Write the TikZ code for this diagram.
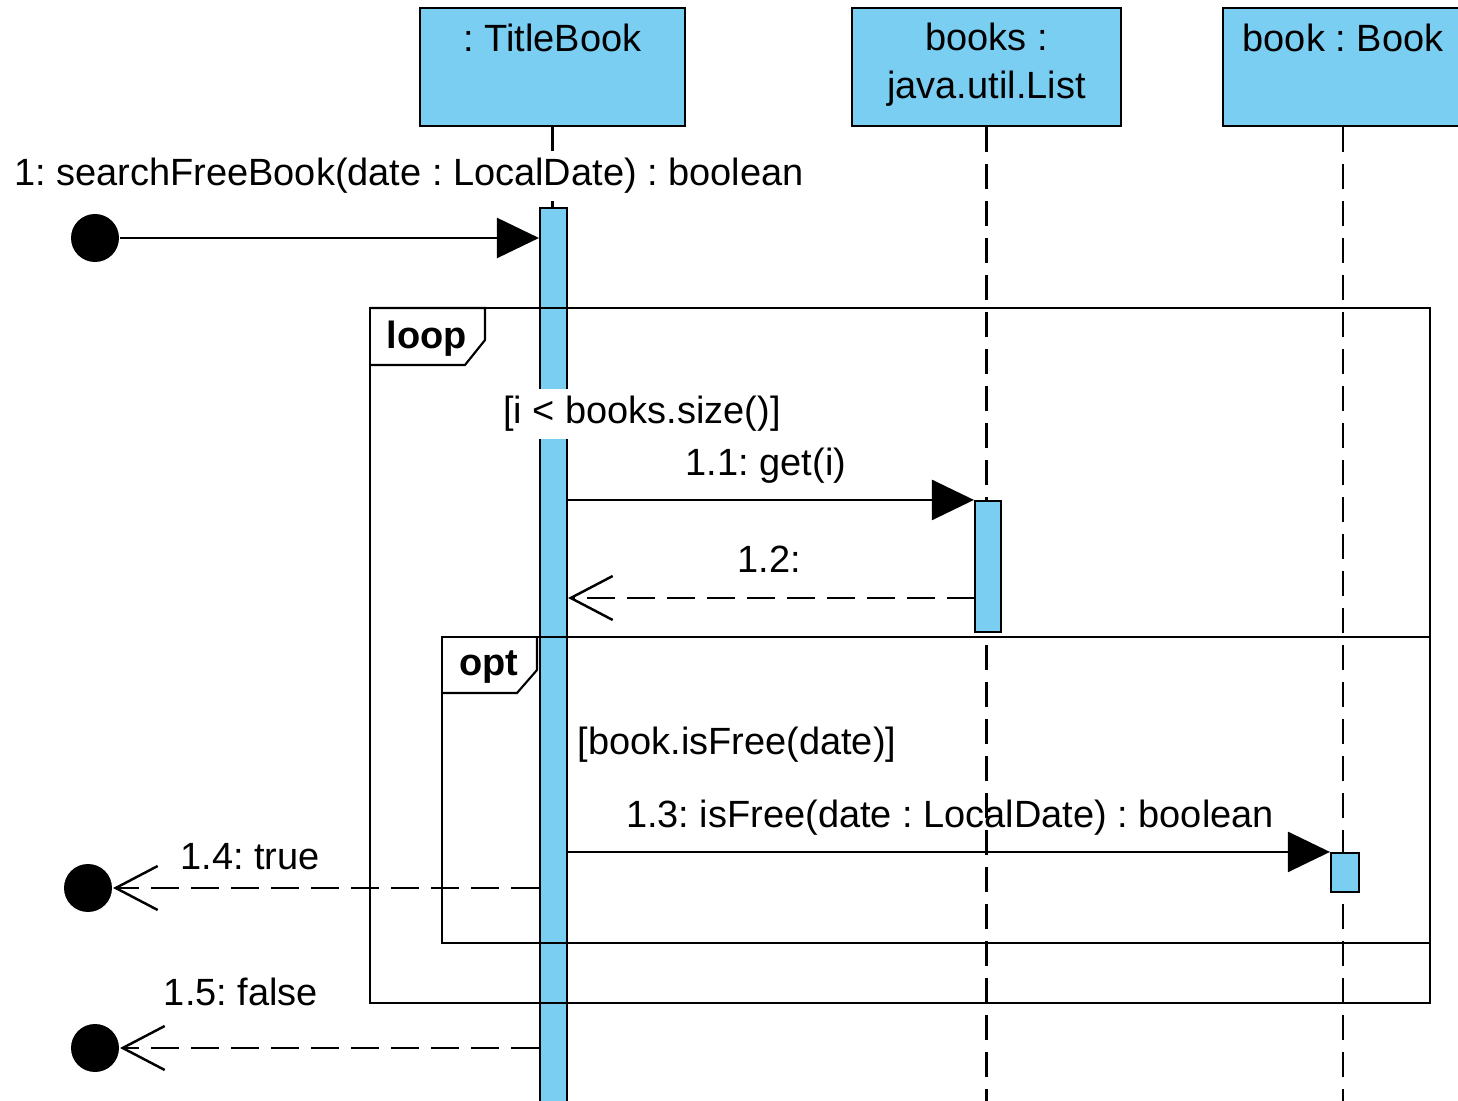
\documentclass[tikz,border=0pt]{standalone}
\usepackage{fontspec}
\setmainfont{Liberation Sans}
\usepackage{tikz}
\usetikzlibrary{arrows.meta,positioning,calc}
\usepackage{xcolor}
\definecolor{objcolor}{RGB}{122, 206, 242}
\frenchspacing

\begin{document}
\begin{tikzpicture}[
    font=\fontsize{10.8}{13.6}\selectfont,
    line width=0.6pt,
    objbox/.style={rectangle, draw, fill=objcolor, minimum width=2.65cm, minimum height=1.18cm, inner sep=0pt},
    actbar/.style={rectangle, draw, fill=objcolor, minimum width=0.27cm, inner sep=0pt},
    lifeline/.style={dash pattern=on 0.25cm off 0.12cm, line width=0.7pt},
    call/.style={-{Triangle[length=0.42cm, width=0.4cm]}, line width=0.7pt},
    reply/.style={-{Straight Barb[length=0.42cm, width=0.44cm]}, dash pattern=on 0.28cm off 0.12cm, line width=0.7pt},
    endpt/.style={circle, fill=black, minimum size=0.48cm, inner sep=0pt},
    msg/.style={inner sep=1pt},
    guard/.style={fill=white, inner sep=0.07cm},
    tag/.style={font=\fontsize{10.8}{13}\selectfont\bfseries, inner sep=1pt},
]
    \useasboundingbox (0,0) rectangle (14.58,-11.01);

    % === OBJECTS ===
    \node[objbox] (tb) at (5.525, -0.67) {};
    \node[objbox, minimum width=2.69cm] (bks) at (9.865, -0.67) {};
    \node[objbox, minimum width=2.40cm] (bk) at (13.43, -0.67) {};
    \node (tbname) at (5.525, -0.38) {: TitleBook};
    \node[align=center] (bksname) at (9.865, -0.65) {books :\\java.util.List};
    \node (bkname) at (13.43, -0.38) {book : Book};

    % Lifelines
    \coordinate (bottom) at (0, -11.2);
    \foreach \o in {tb, bks, bk} {
        \draw[lifeline] (\o.south) -- (\o.south |- bottom);
    }

    % Activations
    \node[actbar, minimum height=9.07cm] (tbbar) at (5.535, -6.615) {};
    \node[actbar, minimum width=0.26cm, minimum height=1.31cm] (bksbar) at (9.88, -5.665) {};
    \node[actbar, minimum width=0.28cm, minimum height=0.39cm] (bkbar) at (13.45, -8.725) {};

    % === FRAMES ===
    \draw (3.70, -3.08) rectangle (14.30, -10.03);
    \draw (3.70, -3.08) -- (4.85, -3.08) -- (4.85, -3.40) -- (4.65, -3.65) -- (3.70, -3.65);
    \node[tag] (loop) at (4.27, -3.39) {loop};

    \draw (4.42, -6.37) rectangle (14.30, -9.43);
    \draw (5.37, -6.37) -- (5.37, -6.70) -- (5.17, -6.93) -- (4.42, -6.93);
    \node[tag] (opt) at (4.89, -6.67) {opt};

    % === MESSAGES ===
    \node[endpt] (start) at (0.95, -2.38) {};
    \node[guard] (m1) at (4.09, -1.76) {1: searchFreeBook(date : LocalDate) : boolean};
    \draw[call] (start) -- (start -| tbbar.west);

    \node[guard] (g1) at (6.42, -4.14) {[i < books.size()]};

    \node[msg] (m11) at (7.66, -4.66) {1.1: get(i)};
    \draw[call] (tbbar.east |- bksbar.north) -- (bksbar.north west);

    \coordinate (r12) at (9.75, -5.98);
    \node[msg] (m12) at (7.69, -5.59) {1.2:};
    \draw[reply] (r12) -- (r12 -| tbbar.east);

    \node[msg] (g2) at (7.37, -7.45) {[book.isFree(date)]};

    \node[msg] (m13) at (9.50, -8.18) {1.3: isFree(date : LocalDate) : boolean};
    \draw[call] (tbbar.east |- bkbar.north) -- (bkbar.north west);

    \node[endpt] (end1) at (0.88, -8.88) {};
    \node[msg] (m14) at (2.50, -8.57) {1.4: true};
    \draw[reply] (tbbar.west |- end1) -- (end1);

    \node[endpt] (end2) at (0.95, -10.48) {};
    \node[msg] (m15) at (2.41, -9.92) {1.5: false};
    \draw[reply] (tbbar.west |- end2) -- (end2);

\end{tikzpicture}
\end{document}
